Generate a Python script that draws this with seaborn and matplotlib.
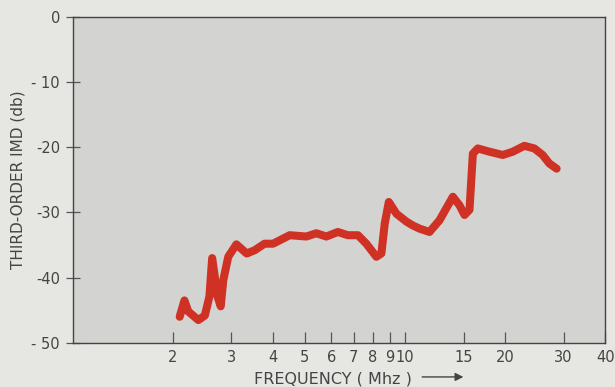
import numpy as np
import pandas as pd
import matplotlib
matplotlib.use("Agg")
import matplotlib.pyplot as plt
import seaborn as sns

# Data (frequency in MHz, IMD in dB)
freq_mhz = [2.10, 2.17, 2.23, 2.39, 2.50, 2.58, 2.63, 2.73, 2.79, 2.84,
            2.94, 3.11, 3.34, 3.53, 3.78, 4.01, 4.50, 5.05, 5.41, 5.80,
            6.28, 6.73, 7.22, 7.65, 8.20, 8.49, 8.69, 8.94, 9.42, 10.09,
            10.55, 11.07, 11.85, 12.70, 13.93, 14.58, 15.10, 15.63, 16.0,
            16.56, 17.95, 19.68, 21.09, 22.85, 24.49, 25.94, 27.17, 28.58]
imd_db = [-46.0, -43.5, -45.2, -46.5, -45.8, -42.9, -37.0, -42.9, -44.4, -40.4,
          -36.8, -34.9, -36.3, -35.8, -34.8, -34.8, -33.5, -33.7, -33.2, -33.7,
          -33.0, -33.5, -33.5, -34.8, -36.8, -36.3, -31.7, -28.4, -30.2, -31.4,
          -32.0, -32.5, -33.0, -31.2, -27.6, -28.9, -30.4, -29.6, -21.0,
          -20.2, -20.7, -21.2, -20.7, -19.8, -20.2, -21.2, -22.5, -23.3]

x_ticks = [2, 3, 4, 5, 6, 7, 8, 9, 10, 15, 20, 30, 40]
x_tick_labels = ["2", "3", "4", "5", "6", "7", "8", "9", "10", "15", "20", "30", "40"]
y_ticks = [-50, -40, -30, -20, -10, 0]
y_tick_labels = ["- 50", "-40", "-30", "-20", "- 10", "0"]

df = pd.DataFrame({"freq": freq_mhz, "imd": imd_db})

sns.set_style("ticks")
plt.rcParams["font.family"] = ["DejaVu Sans"]

fig = plt.figure(figsize=(6.15, 3.87), dpi=100, facecolor="#e6e6e3")
ax = fig.add_axes([0.118, 0.114, 0.866, 0.843])
ax.set_facecolor("#d3d4d1")

sns.lineplot(data=df, x="freq", y="imd", ax=ax, color="#cf3125",
             linewidth=5.8, solid_capstyle="round", solid_joinstyle="round")

ax.set_xscale("log")
ax.set_xlim(1, 40)
ax.set_ylim(-50, 0)

ax.set_xticks(x_ticks)
ax.set_xticklabels(x_tick_labels)
ax.xaxis.set_minor_locator(matplotlib.ticker.NullLocator())
ax.set_yticks(y_ticks)
ax.set_yticklabels(y_tick_labels)

ax.tick_params(axis="x", direction="in", length=8, width=0.9, color="#555555",
               labelsize=10.5, labelcolor="#444444", pad=5)
ax.tick_params(axis="y", direction="inout", length=10, width=0.9, color="#555555",
               labelsize=10.5, labelcolor="#444444", pad=4)

for side in ["left", "right", "top", "bottom"]:
    ax.spines[side].set_visible(True)
    ax.spines[side].set_color("#444444")
    ax.spines[side].set_linewidth(1.0)

ax.set_xlabel("")
ax.set_ylabel("THIRD-ORDER IMD (db)", fontsize=11, color="#444444", labelpad=4)
fig.text(0.413, 0.008, "FREQUENCY ( Mhz )", fontsize=11.5, color="#444444")
ax.annotate("", xy=(0.758, 0.026), xytext=(0.682, 0.026), xycoords="figure fraction",
            arrowprops=dict(arrowstyle="-|>", color="#444444", lw=1.0, mutation_scale=12))

fig.savefig("out.png", dpi=100, facecolor=fig.get_facecolor())
